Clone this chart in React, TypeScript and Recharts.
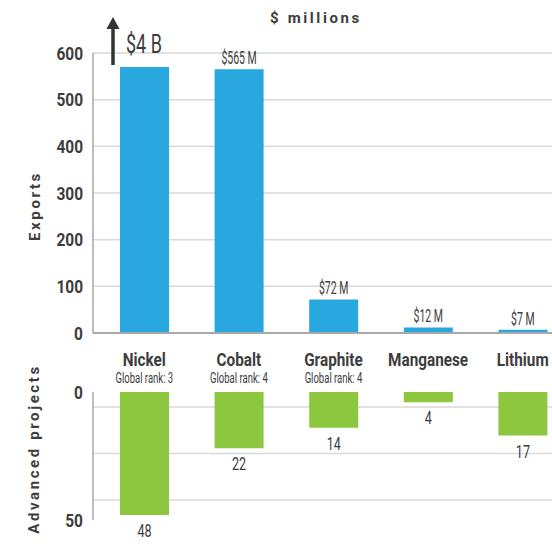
import React from 'react';
import { BarChart, Bar, XAxis, YAxis, CartesianGrid, LabelList } from 'recharts';

const minerals = ['Nickel', 'Cobalt', 'Graphite', 'Manganese', 'Lithium'];
const globalRanks = ['Global rank: 3', 'Global rank: 4', 'Global rank: 4', '', ''];
const exportsMillions = [4000, 565, 72, 12, 7];
const advancedProjects = [48, 22, 14, 4, 17];
const exportTicks = [0, 100, 200, 300, 400, 500, 600];
const projectTicks = [0, 50];
// nickel is far off the scale, its bar is cut here and marked with an arrow
const exportCap = 570;

const FONT = 'Roboto, "Liberation Sans", sans-serif';
const TEXT = '#3d3d3d';
const BLUE = '#29a8e0';
const GREEN = '#8dc63f';
const GRID = '#d9d9d9';
const AXIS = '#bdbdbd';

const fmtExport = (v: number) => (v >= 1000 ? `$${v / 1000} B` : `$${v} M`);

const rows = minerals.map((name, i) => ({
  name,
  rank: globalRanks[i],
  exports: Math.min(exportsMillions[i], exportCap),
  exportsLabel: fmtExport(exportsMillions[i]),
  broken: exportsMillions[i] > exportCap,
  projects: advancedProjects[i],
}));

// condensed look: squeeze the glyphs horizontally
const NText = ({ x, y, sx = 0.7, anchor = 'middle', size = 16, weight = 400, children }: any) => (
  <text
    transform={`translate(${x},${y}) scale(${sx},1)`}
    textAnchor={anchor}
    fontFamily={FONT}
    fontSize={size}
    fontWeight={weight}
    fill={TEXT}
  >
    {children}
  </text>
);

const YTick = (props: any) => {
  const { x, y, payload } = props;
  return (
    <NText x={x} y={y + 6.5} anchor="end" sx={0.86} size={18} weight={700}>
      {payload.value}
    </NText>
  );
};

const CategoryTick = (props: any) => {
  const { x, y, payload, index } = props;
  const rank = rows[index] ? rows[index].rank : '';
  return (
    <g>
      <NText x={x} y={y + 33} sx={0.85} size={18} weight={700}>
        {payload.value}
      </NText>
      {rank && (
        <NText x={x} y={y + 50} sx={0.68} size={14}>
          {rank}
        </NText>
      )}
    </g>
  );
};

const ExportLabel = (props: any) => {
  const { x, y, width, index } = props;
  const row = rows[index];
  if (!row) return null;
  if (row.broken) {
    const ax = x - 7;
    return (
      <g>
        <line x1={ax} y1={y - 2} x2={ax} y2={27} stroke="#333" strokeWidth={3.5} />
        <polygon points={`${ax - 6.5},${29} ${ax + 6.5},${29} ${ax},${17}`} fill="#333" />
        <NText x={x + 6} y={y - 14} anchor="start" sx={0.72} size={25}>
          {row.exportsLabel}
        </NText>
      </g>
    );
  }
  return (
    <NText x={x + width / 2} y={y - 5} sx={0.6} size={17.5}>
      {row.exportsLabel}
    </NText>
  );
};

const ProjectLabel = (props: any) => {
  const { x, y, width, height, value } = props;
  const bottom = Math.max(y, y + height);
  return (
    <NText x={x + width / 2} y={bottom + 22} sx={0.7} size={18}>
      {value}
    </NText>
  );
};

const titleStyle: React.CSSProperties = {
  position: 'absolute',
  fontFamily: FONT,
  fontWeight: 700,
  fontSize: 15,
  letterSpacing: 2.6,
  color: TEXT,
  whiteSpace: 'nowrap',
};

export default function App() {
  return (
    <div style={{ position: 'absolute', left: 0, top: 0, width: 552, height: 560, overflow: 'hidden', background: '#fff' }}>
      <div style={{ position: 'absolute', left: 0, top: 0 }}>
        <BarChart width={575} height={390} data={rows} margin={{ top: 53, right: 5, left: 0, bottom: 0 }}>
          <CartesianGrid vertical={false} stroke={GRID} strokeWidth={1.5} />
          <YAxis
            width={93}
            domain={[0, 600]}
            ticks={exportTicks}
            interval={0}
            axisLine={{ stroke: AXIS, strokeWidth: 2 }}
            tickLine={false}
            tickSize={0}
            tickMargin={10}
            tick={<YTick />}
          />
          <XAxis
            dataKey="name"
            height={57}
            padding={{ left: 4, right: 0 }}
            axisLine={{ stroke: '#a9a9a9', strokeWidth: 2 }}
            tickLine={false}
            tickSize={0}
            tickMargin={0}
            interval={0}
            tick={<CategoryTick />}
          />
          <Bar dataKey="exports" fill={BLUE} barSize={49} isAnimationActive={false}>
            <LabelList dataKey="exports" content={<ExportLabel />} />
          </Bar>
        </BarChart>
      </div>
      <div style={{ position: 'absolute', left: 0, top: 380 }}>
        <BarChart width={575} height={180} data={rows} margin={{ top: 12, right: 5, left: 0, bottom: 40 }}>
          <CartesianGrid
            vertical={false}
            stroke={GRID}
            strokeWidth={1.5}
            horizontalCoordinatesGenerator={({ offset }: any) => [offset.top + 15, offset.top + 61.5, offset.top + 108]}
          />
          <YAxis
            width={93}
            domain={[0, 50]}
            ticks={projectTicks}
            reversed
            interval={0}
            axisLine={{ stroke: AXIS, strokeWidth: 2 }}
            tickLine={false}
            tickSize={0}
            tickMargin={10}
            tick={<YTick />}
          />
          <XAxis
            dataKey="name"
            orientation="top"
            height={0}
            padding={{ left: 4, right: 0 }}
            axisLine={{ stroke: '#a9a9a9', strokeWidth: 2 }}
            tickLine={false}
            tick={false}
          />
          <Bar dataKey="projects" fill={GREEN} barSize={49} isAnimationActive={false}>
            <LabelList dataKey="projects" content={<ProjectLabel />} />
          </Bar>
        </BarChart>
      </div>
      <div style={{ ...titleStyle, left: 316, top: 18, transform: 'translate(-50%, -50%)' }}>$ millions</div>
      <div style={{ ...titleStyle, left: 35, top: 206, transform: 'translate(-50%, -50%) rotate(-90deg)' }}>Exports</div>
      <div style={{ ...titleStyle, left: 34, top: 449, transform: 'translate(-50%, -50%) rotate(-90deg)' }}>
        Advanced projects
      </div>
    </div>
  );
}
